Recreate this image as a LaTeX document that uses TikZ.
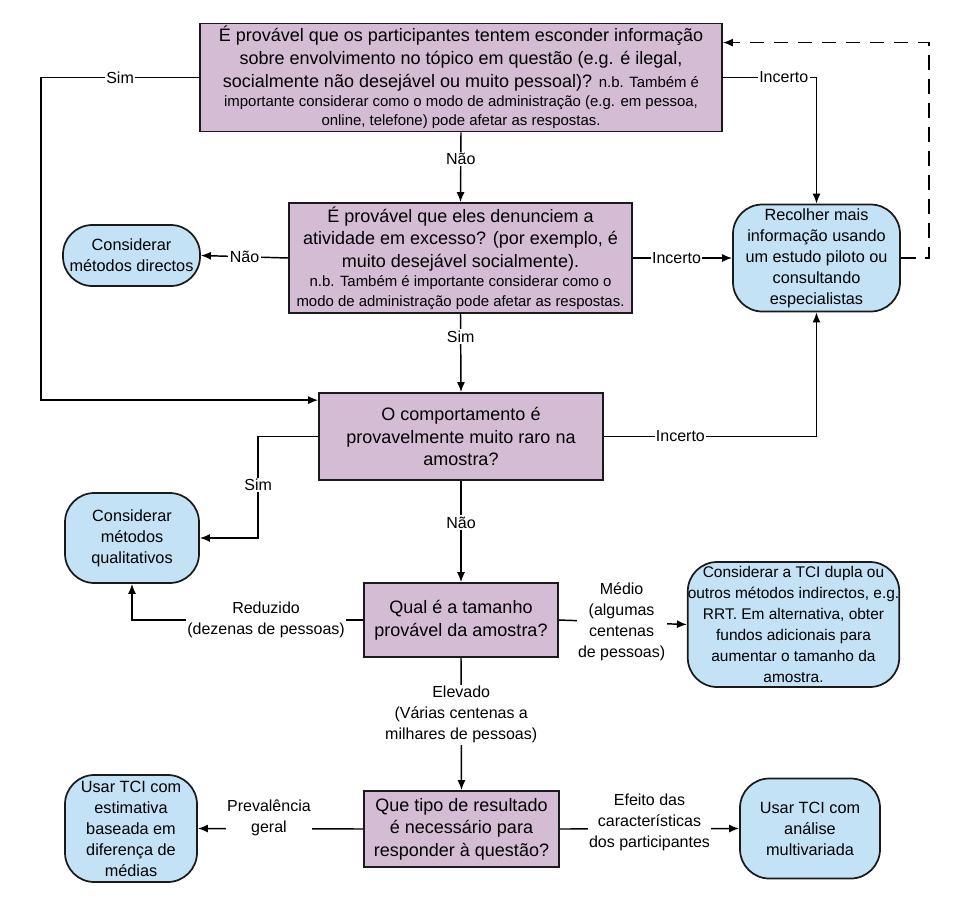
\documentclass[tikz,border=0pt]{standalone}
\usepackage{fontspec}
\setmainfont{Liberation Sans}
\usetikzlibrary{arrows.meta,positioning}

\newcommand{\nbnote}[1]{{\fontsize{11.2}{14}\selectfont #1}}

\begin{document}
\begin{tikzpicture}[x=0.75pt, y=-0.75pt,
    question/.style={draw=borderColour, fill=questionColour, line width=1.3pt, align=center, inner sep=2pt, font=\fontsize{13.5}{17}\selectfont},
    outcome/.style={draw=borderColour, fill=outcomeColour, line width=1.3pt, rounded corners=22pt, align=center, inner sep=2pt, font=\fontsize{12.2}{15.75}\selectfont},
    link/.style={line width=1.1pt, -{Latex[length=7.5pt,width=6pt]}},
    answer/.style={fill=white, inner sep=1pt, align=center, font=\fontsize{12}{15.75}\selectfont}]
    % Define colours
    \definecolor{borderColour}{HTML}{1A1A1A}
    \definecolor{questionColour}{HTML}{D4BCD4}
    \definecolor{outcomeColour}{HTML}{C3E2F5}

    % Fix picture size
    \useasboundingbox (0,0) rectangle (974,907);

    % Draw questions
    \node[question, minimum width=391.5pt, minimum height=80.25pt] (hide) at (461,77.5)
        {É provável que os participantes tentem esconder informação\\
         sobre envolvimento no tópico em questão (e.g. é ilegal,\\
         socialmente não desejável ou muito pessoal)? \nbnote{n.b. Também é}\\[-2.5pt]
         \nbnote{importante considerar como o modo de administração (e.g. em pessoa,}\\[-2.5pt]
         \nbnote{online, telefone) pode afetar as respostas.}};
    \node[question, minimum width=257.25pt, minimum height=82.5pt] (over) at (460.5,258)
        {É provável que eles denunciem a\\
         atividade em excesso? (por exemplo, é\\
         muito desejável socialmente).\\[-2.5pt]
         \nbnote{n.b. Também é importante considerar como o}\\[-2.5pt]
         \nbnote{modo de administração pode afetar as respostas.}};
    \node[question, minimum width=213pt, minimum height=65.25pt] (rare) at (461,436.5)
        {O comportamento é\\provavelmente muito raro na\\amostra?};
    \node[question, minimum width=145.5pt, minimum height=55.5pt] (size) at (461,620)
        {Qual é a tamanho\\provável da amostra?};
    \node[question, minimum width=146.25pt, minimum height=57pt] (result) at (461.5,829)
        {Que tipo de resultado\\é necessário para\\responder à questão?};

    % Draw outcomes
    \node[outcome, minimum width=102.75pt, minimum height=45.75pt] (direct) at (131.5,255.5)
        {Considerar\\métodos directos};
    \node[outcome, minimum width=125.25pt, minimum height=80.25pt] (pilot) at (816.5,258)
        {Recolher mais\\informação usando\\um estudo piloto ou\\consultando\\especialistas};
    \node[outcome, minimum width=100.5pt, minimum height=67.5pt] (qualit) at (132,538)
        {Considerar\\métodos\\qualitativos};
    \node[outcome, minimum width=156.75pt, minimum height=93.75pt, inner sep=0pt,
          font=\fontsize{11.6}{15.75}\selectfont] (dual) at (793.5,624.5)
        {Considerar a TCI dupla ou\\outros métodos indirectos, e.g.\\RRT. Em alternativa, obter\\fundos adicionais para\\aumentar o tamanho da\\amostra.};
    \node[outcome, minimum width=99pt, minimum height=80.25pt] (diffmeans) at (131,828.5)
        {Usar TCI com\\estimativa\\baseada em\\diferença de\\médias};
    \node[outcome, minimum width=105pt, minimum height=75pt] (multivar) at (810,828.5)
        {Usar TCI com\\análise\\multivariada};

    % Draw answers
    \draw[link] (hide.south) -- node[answer, pos=0.38] {Não} (over.north);
    \draw[link] (hide.west) -- node[answer] {Sim} (41,77.5) |- ([yshift=-6pt]rare.north west);
    \draw[link] (hide.east) -- node[answer, pos=0.65] {Incerto} (pilot.north |- hide.east) -- (pilot.north);
    \draw[link, dashed, dash pattern=on 11pt off 7pt] (pilot.east) -- ++(28,0) |- ([yshift=-15pt]hide.north east);
    \draw[link] (over.west) -- node[answer] {Não} (direct.east);
    \draw[link] (over.east) -- node[answer, pos=0.44] {Incerto} (pilot.west);
    \draw[link] (over.south) -- node[answer, pos=0.29] {Sim} (rare.north);
    \draw[link] (rare.west) -- ++(-60,0) |- node[answer, pos=0.24] {Sim} (qualit.east);
    \draw[link] (rare.east) -| node[answer, pos=0.18] {Incerto} (pilot.south);
    \draw[link] (rare.south) -- node[answer, pos=0.41] {Não} (size.north);
    \draw[link] (size.west) -| node[answer, pos=0.21] {Reduzido\\(dezenas de pessoas)} (qualit.south);
    \draw[link] (size.east) -- node[answer, pos=0.49] {Médio\\(algumas\\centenas\\de pessoas)} (dual.west);
    \draw[link] (size.south) -- node[answer, pos=0.43] {Elevado\\(Várias centenas a\\milhares de pessoas)} (result.north);
    \draw[link] (result.west) -- node[answer, pos=0.57, yshift=8pt] {Prevalência\\geral} (diffmeans.east);
    \draw[link] (result.east) -- node[answer, pos=0.5, yshift=5pt] {Efeito das\\características\\dos participantes} (multivar.west);

\end{tikzpicture}
\end{document}
